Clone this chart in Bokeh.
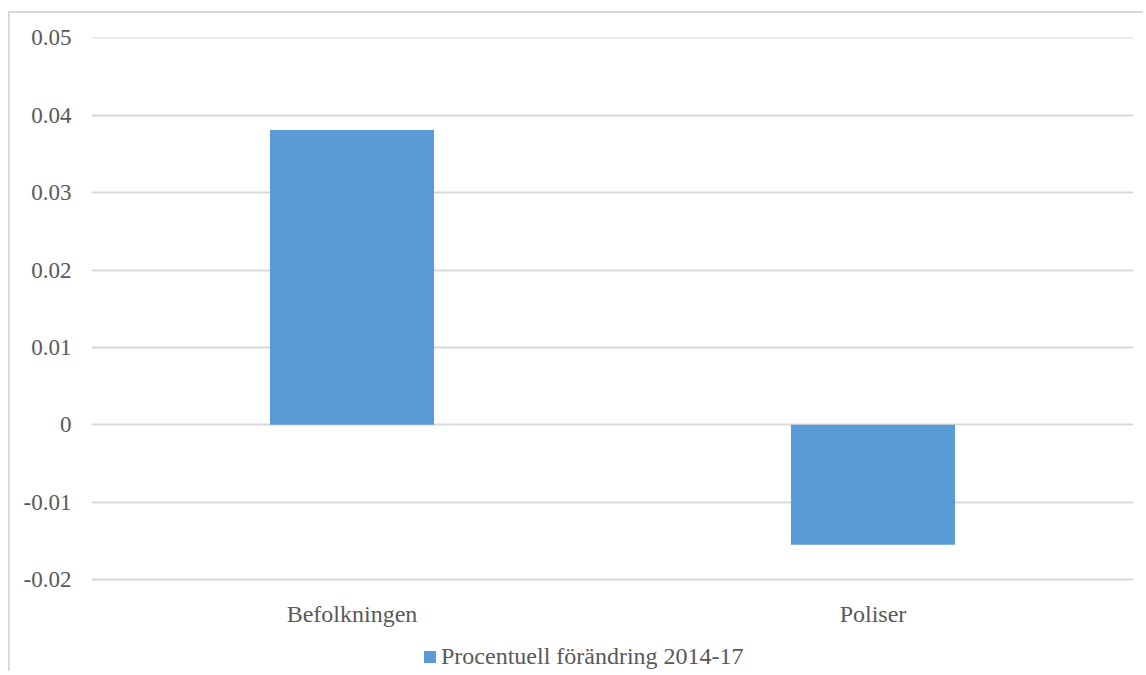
from bokeh.plotting import figure
from bokeh.models import ColumnDataSource, Range1d, FixedTicker, Legend, LegendItem
from bokeh.core.properties import value
from bokeh.embed import file_html
from bokeh.resources import INLINE

categories = ["Befolkningen", "Poliser"]
values = [0.0381, -0.0155]
series_name = "Procentuell förändring 2014-17"
tick_values = [-0.02, -0.01, 0.0, 0.01, 0.02, 0.03, 0.04, 0.05]
tick_labels = ["-0.02", "-0.01", "0", "0.01", "0.02", "0.03", "0.04", "0.05"]

FONT = "Liberation Serif"
TXT = "#595959"
GRID = "#d9d9d9"
BAR = "#5b9bd5"

# layout geometry (pixels)
W, H = 1135, 660
B_LEFT, B_RIGHT, B_TOP = 81, 12, 24
frame_h = H - B_TOP
y_end = max(tick_values) + 0.00005
y_min_tick = min(tick_values)
px_per_unit = 542 / (y_end - y_min_tick)
y_start = y_end - frame_h / px_per_unit
label_y = y_min_tick - 34 / px_per_unit

source = ColumnDataSource(data=dict(cat=categories, val=values))
lab_source = ColumnDataSource(data=dict(cat=categories, y=[label_y] * len(categories)))

p = figure(
    x_range=categories,
    y_range=Range1d(y_start, y_end),
    width=W, height=H,
    output_backend="svg", toolbar_location=None,
    min_border_left=B_LEFT, min_border_right=B_RIGHT, min_border_top=B_TOP, min_border_bottom=0,
)
p.styles = {"border-left": "2px solid #d9d9d9", "border-top": "2px solid #d9d9d9",
            "margin-left": "8px", "margin-top": "11px"}
p.outline_line_color = None
p.background_fill_color = "white"
p.border_fill_color = "white"

r = p.vbar(x="cat", top="val", bottom=0, width=0.315, source=source,
           fill_color=BAR, line_color=None)

# category labels
p.text(x="cat", y="y", text="cat", source=lab_source,
       text_font=value(FONT), text_font_size="24px", text_color=TXT,
       text_align="center", text_baseline="middle")

# y axis
p.yaxis.ticker = FixedTicker(ticks=tick_values)
p.yaxis.major_label_overrides = {v: l for v, l in zip(tick_values, tick_labels)}
p.yaxis.axis_line_color = None
p.yaxis.major_tick_line_color = None
p.yaxis.minor_tick_line_color = None
p.yaxis.major_label_standoff = 14
p.yaxis.major_label_text_font = FONT
p.yaxis.major_label_text_font_size = "23px"
p.yaxis.major_label_text_color = TXT

p.xaxis.visible = False
p.xgrid.grid_line_color = None
p.ygrid.grid_line_color = GRID
p.ygrid.grid_line_width = 2

legend = Legend(items=[LegendItem(label=series_name, renderers=[r])],
                orientation="horizontal", location=(331, 3),
                label_text_font=FONT, label_text_font_size="24px", label_text_color=TXT,
                glyph_width=15, glyph_height=15, label_standoff=4,
                border_line_color=None, background_fill_alpha=0,
                padding=0, margin=0)
p.add_layout(legend, "center")

open("out.html", "w").write(file_html(p, INLINE))
